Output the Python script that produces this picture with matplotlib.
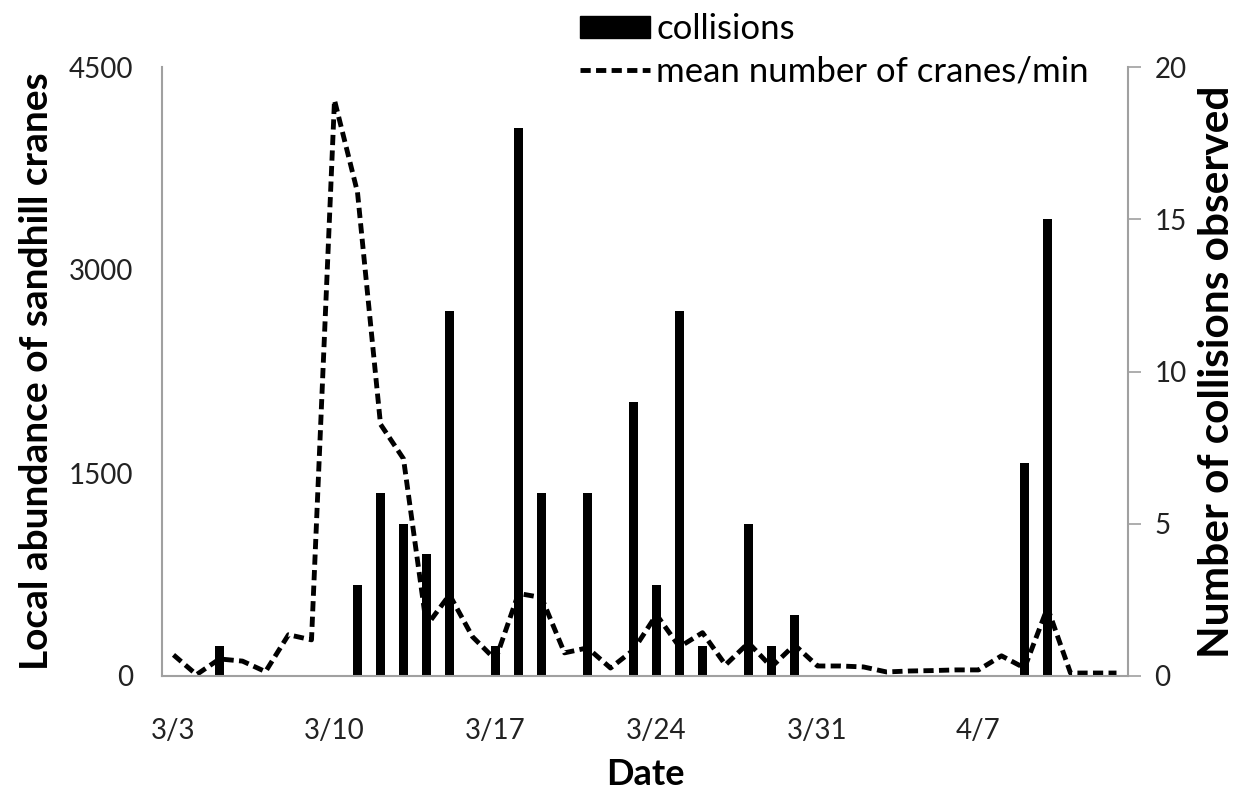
import numpy as np
import pandas as pd
import matplotlib
matplotlib.use("Agg")
import matplotlib.pyplot as plt
from matplotlib.patches import Patch
from matplotlib.lines import Line2D

plt.rcParams['font.family'] = ['Lato', 'DejaVu Sans']

# Daily dates of the survey (3/3 - 4/13)
dates = pd.date_range("2010-03-03", "2010-04-13", freq="D")

# Local abundance of sandhill cranes (left axis), one value per day
abundance = [156, 10, 126, 110, 32, 305, 267, 4255, 3574, 1860, 1605, 370,
             600, 290, 120, 610, 580, 171, 208, 59, 193, 453, 215, 320,
             82, 245, 67, 230, 74, 74, 67, 30, 37, 40, 45, 45, 149, 59,
             505, 22, 22, 22]

# Collisions observed (right axis)
collision_dates = ["2010-03-05", "2010-03-11", "2010-03-12", "2010-03-13",
                   "2010-03-14", "2010-03-15", "2010-03-17", "2010-03-18",
                   "2010-03-19", "2010-03-21", "2010-03-23", "2010-03-24",
                   "2010-03-25", "2010-03-26", "2010-03-28", "2010-03-29",
                   "2010-03-30", "2010-04-09", "2010-04-10"]
collisions = [1, 3, 6, 5, 4, 12, 1, 18, 6, 6, 9, 3, 12, 1, 5, 1, 2, 7, 15]

left_ticks = [0, 1500, 3000, 4500]
right_ticks = [0, 5, 10, 15, 20]
tick_dates = ["2010-03-03", "2010-03-10", "2010-03-17", "2010-03-24",
              "2010-03-31", "2010-04-07"]

start = dates[0]
x_line = np.array([(d - start).days for d in dates])
x_bar = np.array([(pd.Timestamp(d) - start).days for d in collision_dates])
x_ticks = [(pd.Timestamp(d) - start).days for d in tick_dates]
x_labels = [f"{pd.Timestamp(d).month}/{pd.Timestamp(d).day}" for d in tick_dates]

gray = "#a0a0a0"
dash = (2.1, 1.1)

fig = plt.figure(figsize=(12.41, 7.95), dpi=100)
ax1 = fig.add_axes([162 / 1241, 1 - 676 / 795, (1128 - 162) / 1241, (676 - 67) / 795])
ax2 = ax1.twinx()

# bars on the right axis
ax2.bar(x_bar, collisions, width=0.43, color="black", zorder=2)
ax2.set_ylim(0, 20)
ax2.set_yticks(right_ticks)
ax2.tick_params(axis="y", direction="out", length=9, width=1.2, color=gray,
                labelsize=20, pad=10, labelcolor="#222222")
ax2.set_ylabel("Number of collisions observed", fontsize=30.5, fontweight="bold",
               labelpad=8)

# dashed line on the left axis, drawn above the bars
ax1.set_zorder(ax2.get_zorder() + 1)
ax1.patch.set_visible(False)
ax1.plot(x_line, abundance, color="black", lw=3.5, linestyle=(0, dash),
         dash_capstyle="butt")
ax1.set_ylim(0, 4500)
ax1.set_yticks(left_ticks)
ax1.set_xlim(-0.5, len(dates) - 0.5)
ax1.set_xticks(x_ticks)
ax1.set_xticklabels(x_labels)
ax1.tick_params(axis="y", length=0, labelsize=20, pad=21, labelcolor="#222222")
ax1.tick_params(axis="x", length=0, labelsize=20, pad=30, labelcolor="#222222")
ax1.set_ylabel("Local abundance of sandhill cranes", fontsize=28,
               fontweight="bold", labelpad=10)
ax1.set_xlabel("Date", fontsize=26, fontweight="bold", labelpad=10)

for a in (ax1, ax2):
    a.spines["top"].set_visible(False)
    for s in ("left", "right", "bottom"):
        a.spines[s].set_color(gray)
        a.spines[s].set_linewidth(1.5)
ax2.spines["left"].set_visible(False)
ax2.spines["bottom"].set_visible(False)
ax1.spines["right"].set_visible(False)

handles = [Patch(facecolor="black", edgecolor="black"),
           Line2D([0], [0], color="black", lw=3.5, linestyle=(0, dash),
                  dash_capstyle="butt")]
fig.legend(handles, ["collisions", "mean number of cranes/min"],
           loc="upper left", bbox_to_anchor=(563 / 1241, 1 + 4 / 795),
           frameon=False, fontsize=25, handlelength=2.0, handleheight=0.58,
           handletextpad=0.18, labelspacing=0.3, borderpad=0)

fig.savefig("out.png", dpi=100)
